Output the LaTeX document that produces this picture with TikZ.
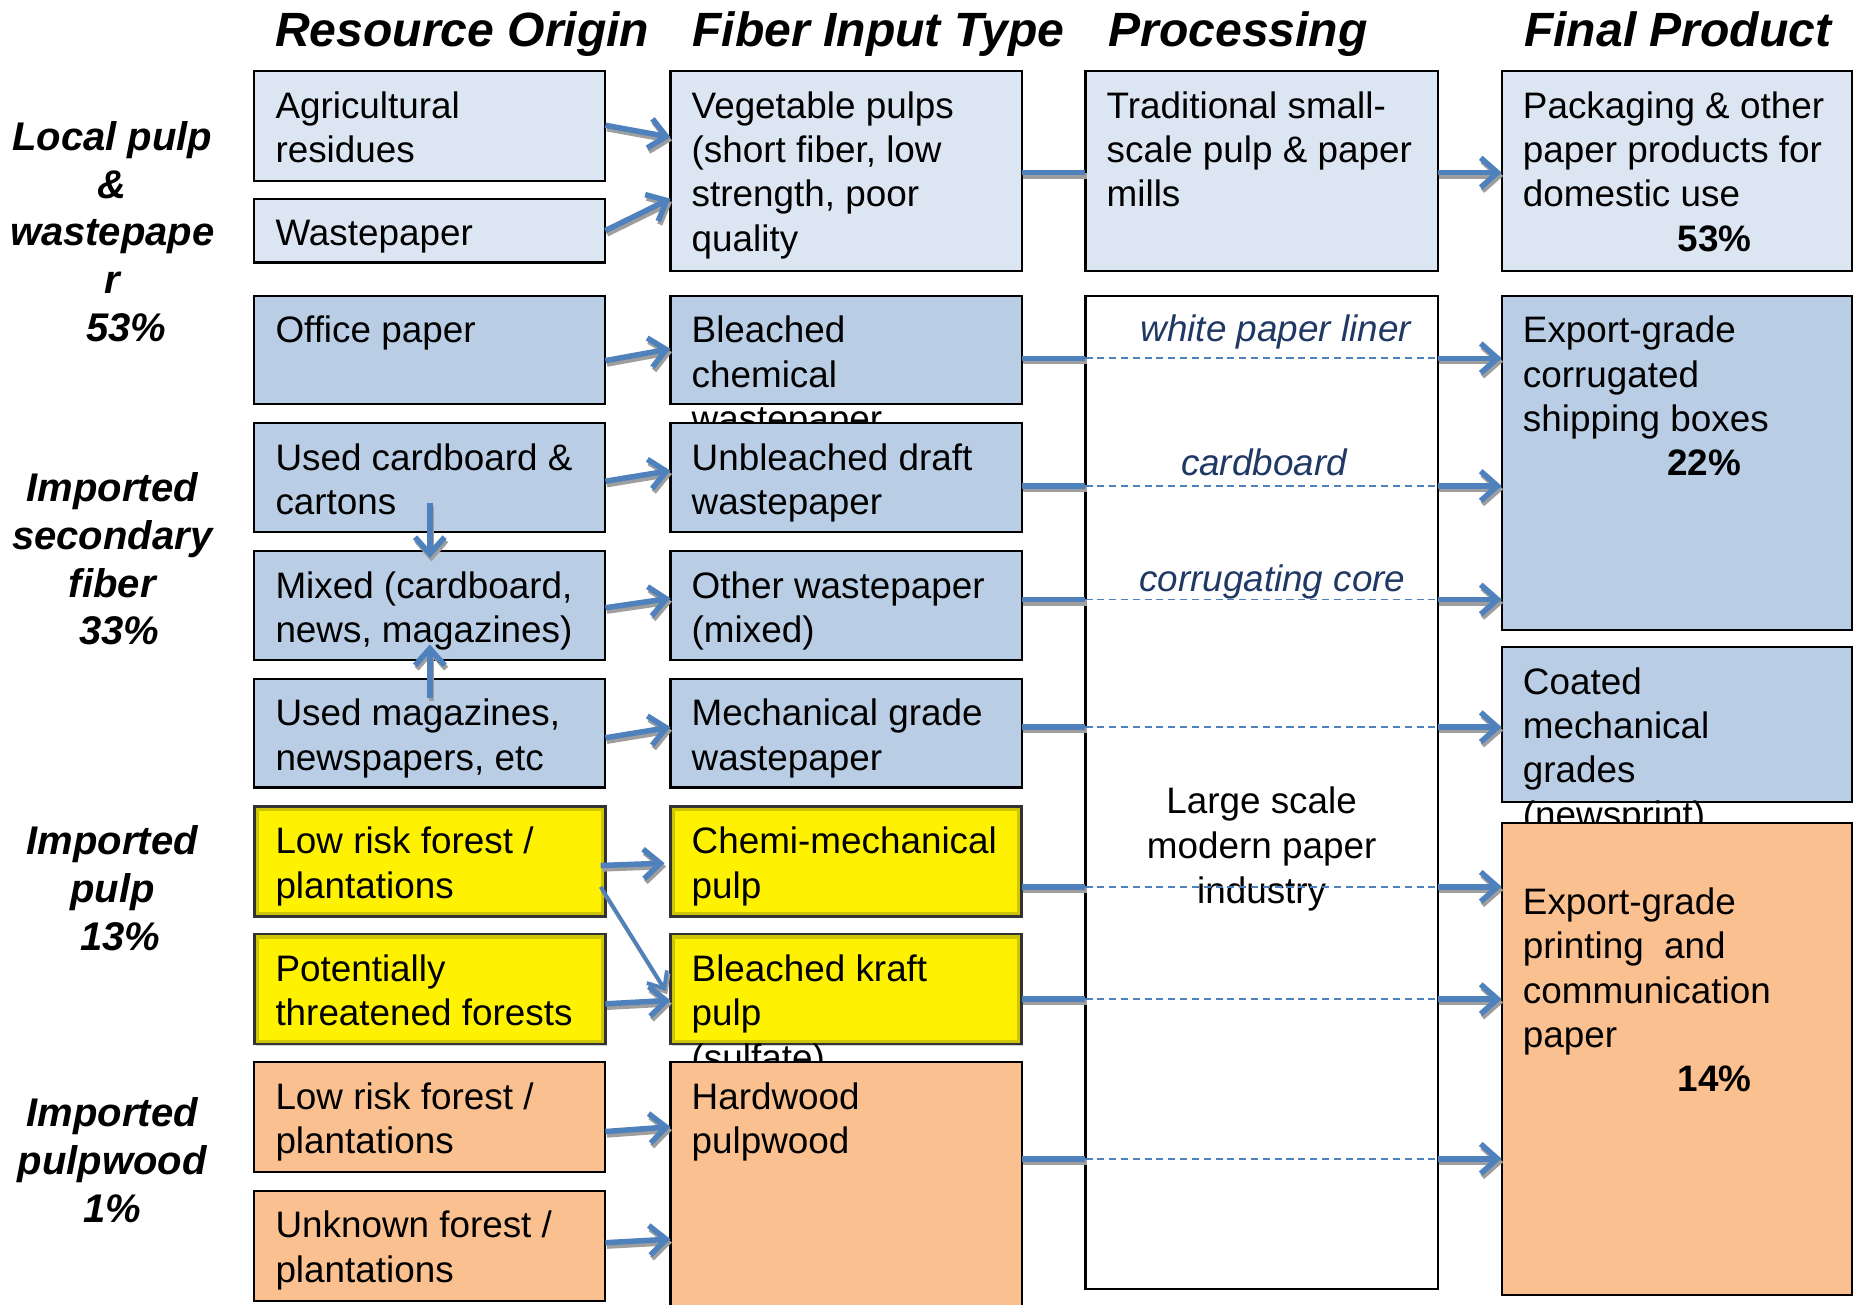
\documentclass[tikz,border=0pt]{standalone}
\usepackage{fontspec}
\setmainfont{Liberation Sans}
\usetikzlibrary{arrows.meta,calc,shadows}
\definecolor{lb}{HTML}{DCE6F2}
\definecolor{mb}{HTML}{B9CDE5}
\definecolor{orng}{HTML}{FAC090}
\definecolor{ablue}{HTML}{4F81BD}
\definecolor{navy}{HTML}{1F3864}
\newcommand{\bodyf}{\fontsize{18.7}{22.5}\selectfont}
\newcommand{\labf}{\fontsize{20.3}{24.3}\selectfont\bfseries\itshape}
\newcommand{\headf}{\fontsize{24.4}{29}\selectfont\bfseries\itshape}
\tikzset{
  basebox/.style={draw=black, line width=1.1pt, inner sep=0pt, outer sep=0pt},
  lbox/.style={basebox, fill=lb},
  mbox/.style={basebox, fill=mb},
  obox/.style={basebox, fill=orng},
  wbox/.style={basebox, fill=white},
  ybox/.style={basebox, fill=yellow, draw=black!80, line width=1.3pt,
    drop shadow={shadow xshift=0.9pt, shadow yshift=-0.9pt, opacity=0.35},
    path picture={\draw[line width=4.5pt, draw=olive!80!black, opacity=0.35]
      (path picture bounding box.south west) rectangle (path picture bounding box.north east);}},
  txt/.style={anchor=base west, inner sep=0pt, outer sep=0pt, font=\bodyf},
  lab/.style={anchor=base, inner sep=0pt, font=\labf},
  head/.style={anchor=base, inner sep=0pt, font=\headf},
  plab/.style={anchor=base, inner sep=0pt, font=\bodyf\itshape, text=navy},
  shdw/.style={draw=black!38, transform canvas={xshift=0.8pt,yshift=-1.7pt}},
  arr/.style={draw=ablue, line width=2.8pt, -{Straight Barb[length=8.5pt,width=15pt]}},
  thinarr/.style={draw=ablue, line width=1.9pt, -{Straight Barb[length=7pt,width=12pt]}},
  thk/.style={draw=ablue, line width=2.8pt},
  dsh/.style={draw=ablue, line width=0.9pt, dash pattern=on 3.6pt off 2.4pt}
}
% name, x1, y1, x2, y2, style, text
\newcommand{\bx}[7]{%
  \node[#6, minimum width={(#4-#2)*0.6pt}, minimum height={(#5-#3)*0.6pt}] (#1) at ({(#2+#4)/2},{(#3+#5)/2}) {};
  \node[txt] (#1-t) at ($(#1.north west)+(18,40)$) {\parbox[t]{300pt}{\raggedright #7}};}
% connector with grey shadow: style, from, to
\newcommand{\conn}[3]{%
  \draw[#1, shdw] #2 -- #3;
  \draw[#1] #2 -- #3;}
\newcommand{\rowline}[3]{%
  \conn{thk}{(#1.east |- 0,#3)}{(proc.west |- 0,#3)}
  \draw[dsh] (proc.west |- 0,#3) -- (proc.east |- 0,#3);
  \conn{arr}{(proc.east |- 0,#3)}{(#2.west |- 0,#3)}}
\begin{document}
\begin{tikzpicture}[x=0.6pt,y=-0.6pt]
\clip (0,0) rectangle (1568,1103);
\fill[white] (0,0) rectangle (1568,1103);
% headers
\node[head] (h1) at (391,39) {Resource Origin};
\node[head] (h2) at (743,39) {Fiber Input Type};
\node[head] (h3) at (1047,39) {Processing};
\node[head] (h4) at (1419,39) {Final Product};
% left labels
\node[lab] (l1) at (95,127) {\parbox[t]{130pt}{\centering Local pulp\\ \&\\ wastepape\\ r\\ \hspace*{14pt}53\%}};
\node[lab] (l2) at (95,424) {\parbox[t]{130pt}{\centering Imported\\ secondary\\ fiber\\ \hspace*{7pt}33\%}};
\node[lab] (l3) at (95,723) {\parbox[t]{130pt}{\centering Imported\\ pulp\\ \hspace*{8pt}13\%}};
\node[lab] (l4) at (95,953) {\parbox[t]{130pt}{\centering Imported\\ pulpwood\\ 1\%}};
% row 1
\bx{agr}{215}{60}{512}{153}{lbox}{Agricultural\\ residues}
\bx{wp}{215}{168}{512}{222}{lbox}{Wastepaper}
\bx{veg}{567}{60}{864}{229}{lbox}{Vegetable pulps\\ (short fiber, low\\ strength, poor\\ quality}
\bx{trad}{918}{60}{1216}{229}{lbox}{Traditional small-\\ scale pulp \& paper\\ mills}
\bx{pack}{1270}{60}{1566}{229}{lbox}{Packaging \& other\\ paper products for\\ domestic use\\ \hspace*{78.6pt}\textbf{53\%}}
% processing box
\bx{proc}{918}{250}{1216}{1090}{wbox}{}
\node[anchor=base, inner sep=0pt, font=\bodyf] (proc-l1) at (1067,688) {Large scale};
\node[anchor=base, inner sep=0pt, font=\bodyf] (proc-l2) at (1067,726) {modern paper};
\node[anchor=base, inner sep=0pt, font=\bodyf] (proc-l3) at (1067,764) {industry};
\node[plab] (pl1) at (1079,289) {white paper liner};
\node[plab] (pl2) at (1069,402) {cardboard};
\node[plab] (pl3) at (1076,500) {corrugating core};
% blue rows
\bx{off}{215}{250}{512}{342}{mbox}{Office paper}
\bx{bch}{567}{250}{864}{342}{mbox}{Bleached\\ chemical\\ wastepaper}
\bx{exc}{1270}{250}{1566}{533}{mbox}{Export-grade\\ corrugated\\ shipping boxes\\ \hspace*{73.2pt}\textbf{22\%}}
\bx{ucb}{215}{358}{512}{450}{mbox}{Used cardboard \&\\ cartons}
\bx{ubd}{567}{358}{864}{450}{mbox}{Unbleached draft\\ wastepaper}
\bx{mix}{215}{466}{512}{558}{mbox}{Mixed (cardboard,\\ news, magazines)}
\bx{oth}{567}{466}{864}{558}{mbox}{Other wastepaper\\ (mixed)}
\bx{mag}{215}{574}{512}{666}{mbox}{Used magazines,\\ newspapers, etc}
\bx{mech}{567}{574}{864}{666}{mbox}{Mechanical grade\\ wastepaper}
\bx{coat}{1270}{547}{1566}{678}{mbox}{Coated\\ mechanical\\ grades\\ (newsprint)}
% yellow rows
\bx{lry}{215}{682}{512}{775}{ybox}{Low risk forest /\\ plantations}
\bx{chm}{567}{682}{864}{775}{ybox}{Chemi-mechanical\\ pulp}
\bx{exp}{1270}{696}{1566}{1095}{obox}{\mbox{}\\ Export-grade\\ printing\ \ and\\ communication\\ paper\\ \hspace*{78.6pt}\textbf{14\%}}
\bx{pot}{215}{790}{512}{883}{ybox}{Potentially\\ threatened forests}
\bx{bkp}{567}{790}{864}{883}{ybox}{Bleached kraft\\ pulp\\ (sulfate)}
% orange rows
\bx{lro}{215}{898}{512}{991}{obox}{Low risk forest /\\ plantations}
\bx{hwd}{567}{898}{864}{1120}{obox}{Hardwood\\ pulpwood}
\bx{unk}{215}{1007}{512}{1100}{obox}{Unknown forest /\\ plantations}
% col1 -> col2 arrows
\conn{arr}{(agr.east |- 0,106)}{(veg.west |- 0,116)}
\conn{arr}{(wp.east |- 0,195)}{(veg.west |- 0,168)}
\conn{arr}{(off.east |- 0,305)}{(bch.west |- 0,295)}
\conn{arr}{(ucb.east |- 0,407)}{(ubd.west |- 0,398)}
\conn{arr}{(mix.east |- 0,514)}{(oth.west |- 0,506)}
\conn{arr}{(mag.east |- 0,624)}{(mech.west |- 0,615)}
\conn{arr}{([yshift=15pt]ucb.south)}{([yshift=-3.6pt]mix.north)}
\conn{arr}{([yshift=-9.6pt]mag.north)}{([yshift=7.8pt]mix.south)}
\conn{arr}{([xshift=-2.4pt]lry.east |- 0,732)}{([xshift=-3pt]chm.west |- 0,730)}
\conn{thinarr}{([xshift=-2.4pt]lry.east |- 0,750)}{([xshift=-2.4pt]bkp.west |- 0,838)}
\conn{arr}{(pot.east |- 0,849)}{(bkp.west |- 0,846)}
\conn{arr}{(lro.east |- 0,957)}{(hwd.west |- 0,953)}
\conn{arr}{(unk.east |- 0,1051)}{(hwd.west |- 0,1048)}
% col2 -> col4
\conn{thk}{(veg.east |- 0,146)}{(trad.west |- 0,146)}
\conn{arr}{(trad.east |- 0,146)}{(pack.west |- 0,146)}
\rowline{bch}{exc}{303}
\rowline{ubd}{exc}{411}
\rowline{oth}{exc}{507}
\rowline{mech}{coat}{615}
\rowline{chm}{exp}{750}
\rowline{bkp}{exp}{845}
\rowline{hwd}{exp}{980}
\end{tikzpicture}
\end{document}
